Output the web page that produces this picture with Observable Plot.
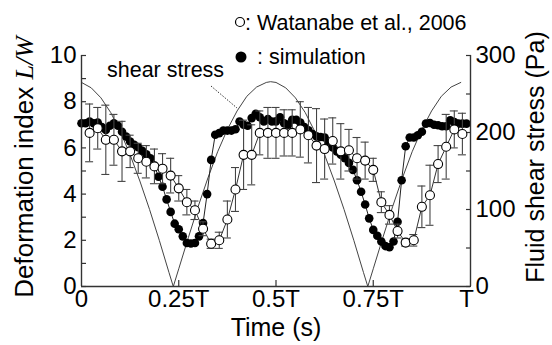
<!DOCTYPE html>
<html><head><meta charset="utf-8">
<script src="https://cdn.jsdelivr.net/npm/d3@7"></script>
<script src="https://cdn.jsdelivr.net/npm/@observablehq/plot@0.6"></script>
<style>html,body{margin:0;padding:0;background:#fff}svg{display:block}</style>
</head><body><div id="chart"></div>
<script>
// ---- data ----
// simulation: deformation index L/W, sampled every T/96 from t = 0
const simLW = [7.07,7.07,7.14,7.07,7.1,6.9,6.78,6.96,7.07,6.96,6.7,6.49,6.28,6.13,6.03,5.87,5.72,5.55,5.22,4.75,4.32,3.77,3.23,2.72,2.48,2.17,1.88,1.86,1.88,2.17,2.75,4.0,5.48,6.57,6.64,6.75,6.75,6.75,6.81,7.14,7.0,6.96,7.29,7.48,7.33,7.14,7.25,7.14,
               7.15,7.33,7.07,7.0,7.22,7.22,7.1,6.9,6.76,6.6,6.5,6.47,6.45,6.2,6.02,5.85,5.7,5.55,5.35,5.05,4.6,4.1,3.55,2.95,2.45,2.2,1.95,1.75,1.7,1.95,2.8,4.6,6.07,6.45,6.45,6.55,6.7,7.05,7.08,7.0,6.98,6.94,6.94,7.19,7.12,7.05,7.05,7.05];
// Watanabe et al., 2006: mean and error, sampled every T/48 from t = T/48
const expLW  = [6.65,6.85,6.35,6.35,5.85,5.85,5.55,5.4,5.2,5.1,4.8,4.25,3.65,3.3,2.5,1.85,2.0,2.9,4.2,5.7,5.7,6.65,6.65,6.65,6.65,6.65,6.8,6.55,6.1,5.95,6.3,5.85,5.9,5.55,5.45,5.05,3.65,3.1,2.4,1.9,2.0,3.45,3.95,5.3,6.05,6.8,6.6];
const expErr = [1.25,0.9,1.5,1.1,1.3,0.7,0.65,0.7,0.75,0.65,0.75,0.55,0.55,0.4,0.3,0.2,0.35,0.8,0.95,1.5,1.3,0.95,1.1,1.1,1.0,1.0,1.2,1.2,1.6,1.3,1.0,1.2,0.9,0.9,0.8,0.5,0.45,0.4,0.3,0.15,0.25,0.9,1.3,0.8,1.4,0.8,0.9];
// fluid shear stress (Pa)
const shearT  = [0,0.025,0.05,0.075,0.1,0.125,0.15,0.175,0.2,0.225,0.236,0.25,0.275,0.3,0.325,0.35,0.375,0.4,0.425,0.45,0.475,0.486,0.5,0.525,0.55,0.575,0.6,0.625,0.65,0.675,0.7,0.725,0.736,0.75,0.775,0.8,0.825,0.85,0.875,0.9,0.925,0.95,0.975];
const shearPa = [265,258,245,226,201,171,137,100,60,18,0,23,64,104,141,175,204,228,247,259,265,266,265,258,245,226,201,171,137,100,60,18,0,23,64,104,141,175,204,228,247,259,265];
// ticks
const xTicks = [0,0.25,0.5,0.75,1];
const xTickLabels = ["0","0.25T","0.5T","0.75T","T"];
const leftTicks = [0,2,4,6,8,10];
const leftMinor = [0,1,2,3,4,5,6,7,8,9,10];
const rightTicksPa = [0,100,200,300];
const rightMinorPa = [0,50,100,150,200,250,300];
const PA_PER_UNIT = 30; // right axis 0–300 Pa spans left axis 0–10

// ---- tables ----
const sim = simLW.map((v,k) => ({t: k/96, v}));
const exp = expLW.map((v,i) => ({t: (i+1)/48, v, e: expErr[i]}));
const shear = shearT.map((t,i) => ({t, pa: shearPa[i]}));

const FONT = "Liberation Sans, Arial, Helvetica, sans-serif";
const ink = "#333";
const xLabel = d => xTickLabels[xTicks.indexOf(d)];

const plot = Plot.plot({
  width: 552, height: 345,
  marginLeft: 81, marginRight: 82, marginTop: 55, marginBottom: 59,
  x: {domain: [0,1]},
  y: {domain: [0,10]},
  style: {fontFamily: FONT, background: "#fff", color: "#000", overflow: "visible"},
  marks: [
    // tick marks (inward)
    Plot.axisY(leftMinor, {anchor: "left", tickSize: -5, tickFormat: () => "", label: null, stroke: ink, strokeWidth: 1.2}),
    Plot.axisY(rightMinorPa.map(p => p/PA_PER_UNIT), {anchor: "right", tickSize: -5, tickFormat: () => "", label: null, stroke: ink, strokeWidth: 1.2}),
    Plot.axisX([0.25,0.5,0.75], {anchor: "bottom", tickSize: -6, tickFormat: () => "", label: null, stroke: ink, strokeWidth: 1.2}),
    // tick labels
    Plot.axisY(leftTicks, {anchor: "left", tickSize: 0, tickPadding: 5, fontSize: 24, label: null}),
    Plot.axisY(rightTicksPa.map(p => p/PA_PER_UNIT), {anchor: "right", tickSize: 0, tickPadding: 5, fontSize: 24, label: null,
      tickFormat: d => String(Math.round(d*PA_PER_UNIT))}),
    Plot.axisX(xTicks.slice(0, 4), {anchor: "bottom", tickSize: 0, tickPadding: 3, fontSize: 24, label: null, tickFormat: xLabel}),
    Plot.axisX(xTicks.slice(4), {anchor: "bottom", tickSize: 0, tickPadding: 3, fontSize: 24, label: null, tickFormat: xLabel, dx: -4}),
    // shear stress curve
    Plot.line(shear, {x: "t", y: d => d.pa/PA_PER_UNIT, stroke: "#444", strokeWidth: 1}),
    // simulation
    Plot.line(sim, {x: "t", y: "v", stroke: "#222", strokeWidth: 1}),
    Plot.dot(sim, {x: "t", y: "v", r: 4.3, fill: "#000", stroke: "none"}),
    // experiment error bars
    Plot.ruleX(exp, {x: "t", y1: d => d.v - d.e, y2: d => d.v + d.e, stroke: "#444", strokeWidth: 1.1}),
    Plot.ruleY(exp, {y: d => d.v + d.e, x1: "t", x2: "t", insetLeft: -4, insetRight: -4, stroke: "#444", strokeWidth: 1.1}),
    Plot.ruleY(exp, {y: d => d.v - d.e, x1: "t", x2: "t", insetLeft: -4, insetRight: -4, stroke: "#444", strokeWidth: 1.1}),
    Plot.line(exp, {x: "t", y: "v", stroke: "#333", strokeWidth: 1}),
    Plot.dot(exp, {x: "t", y: "v", r: 4.5, fill: "#fff", stroke: "#000", strokeWidth: 1.1}),
    // axis lines
    Plot.ruleX([0], {stroke: ink, strokeWidth: 1.4}),
    Plot.ruleX([1], {stroke: ink, strokeWidth: 1.4}),
    Plot.ruleY([0], {stroke: ink, strokeWidth: 1.4}),
    // x axis title
    Plot.text(["Time (s)"], {frameAnchor: "bottom", dy: 49, fontSize: 25, fill: "#000"})
  ]
});
document.getElementById("chart").appendChild(plot);

// ---- annotations: titles, legend, label ----
const svg = d3.select(plot);
const g = svg.append("g").attr("font-family", FONT).attr("fill", "#000").attr("text-anchor", "start");

const lt = g.append("text").attr("transform", "translate(33,167) rotate(-90)")
  .attr("text-anchor", "middle").attr("font-size", 26);
lt.append("tspan").text("Deformation index ");
lt.append("tspan").attr("font-family", "Liberation Serif, Times New Roman, serif").attr("font-style", "italic").text("L/W");

g.append("text").attr("transform", "translate(544,157) rotate(-90)")
  .attr("text-anchor", "middle").attr("font-size", 25).text("Fluid shear stress (Pa)");

// legend
g.append("circle").attr("cx", 240).attr("cy", 22).attr("r", 4.5).attr("fill", "#fff").attr("stroke", "#000").attr("stroke-width", 1.2);
g.append("text").attr("x", 245).attr("y", 30).attr("font-size", 21.5).attr("text-anchor", "start").text(": Watanabe et al., 2006");
g.append("circle").attr("cx", 241).attr("cy", 57).attr("r", 5.5).attr("fill", "#000");
g.append("text").attr("x", 257).attr("y", 64).attr("font-size", 21.5).attr("text-anchor", "start").text(": simulation");

// shear stress label with dotted leader
g.append("text").attr("x", 107).attr("y", 77).attr("font-size", 21.5).attr("text-anchor", "start").text("shear stress");
g.append("line").attr("x1", 211).attr("y1", 86).attr("x2", 237).attr("y2", 108)
  .attr("stroke", "#333").attr("stroke-width", 1).attr("stroke-dasharray", "1.5,1.5");
</script>
</body></html>
